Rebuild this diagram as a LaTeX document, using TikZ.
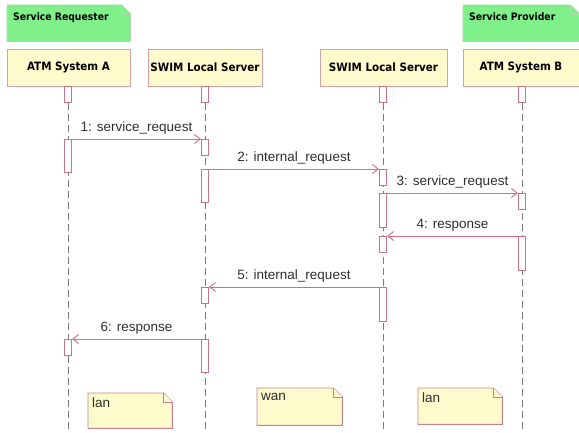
\documentclass[tikz,border=0pt]{standalone}
\usepackage{fontspec}
\setmainfont{Liberation Sans}
\newfontfamily\headfont{DejaVu Sans Condensed}
\usetikzlibrary{arrows.meta}

\definecolor{headfill}{HTML}{FFFBCC}
\definecolor{headline}{HTML}{D8A0A4}
\definecolor{actline}{HTML}{C87488}
\definecolor{msgline}{HTML}{D66A88}
\definecolor{lifeline}{HTML}{7A7A7A}
\definecolor{greenfill}{HTML}{80F08A}
\definecolor{greenline}{HTML}{A6DCA6}
\definecolor{notefill}{HTML}{FFFBCC}
\definecolor{noteline}{HTML}{C8808A}
\definecolor{labeltext}{HTML}{2E2E2E}

\newcommand\dogear{9pt}
% UML note: name, left x, top y, width, height, body style, text style, text
\newcommand\umlnote[8]{%
  \node[inner sep=0pt, minimum width=#4pt, minimum height=#5pt, anchor=north west] (#1) at (#2,#3) {};
  \filldraw[#6] (#1.south west) -- (#1.north west) -- ([xshift=-\dogear]#1.north east)
     -- ([yshift=-\dogear]#1.north east) -- (#1.south east) -- cycle;
  \draw[#6] ([xshift=-\dogear]#1.north east) |- ([yshift=-\dogear]#1.north east);
  \node[anchor=north west, #7] (#1-text) at (#1.north west) {#8};
}

\begin{document}
\begin{tikzpicture}[x=1pt, y=-1pt,
  head/.style={draw=headline, fill=headfill, line width=0.9pt, inner sep=0pt,
    minimum height=37pt, font=\headfont\bfseries\fontsize{11.5}{13}\selectfont},
  act/.style={draw=actline, fill=white, line width=0.9pt, inner sep=0pt,
    minimum width=7pt, anchor=north},
  life/.style={draw=lifeline, line width=0.9pt, dash pattern=on 7pt off 4pt},
  msg/.style={draw=msgline, line width=0.9pt,
    -{Straight Barb[length=6pt, width=9pt, line width=0.9pt]}},
  lbl/.style={above=4pt, inner sep=0pt, text=labeltext,
    font=\fontsize{13.5}{15}\selectfont},
  greennote/.style={draw=greenline, fill=greenfill, line width=0.9pt},
  greentext/.style={inner xsep=6pt, inner ysep=7pt,
    font=\headfont\bfseries\fontsize{10.3}{12}\selectfont},
  yellownote/.style={draw=noteline, fill=notefill, line width=0.9pt},
  yellowtext/.style={inner xsep=4pt, inner ysep=5pt, text=labeltext,
    font=\fontsize{13.5}{15}\selectfont}]

\useasboundingbox (0,0) rectangle (579,433);

% group notes above the heads
\umlnote{req}{7}{5}{123}{36}{greennote}{greentext}{Service Requester}
\umlnote{prov}{463}{5}{116}{36}{greennote}{greentext}{Service Provider}

% lifeline heads
\node[head, minimum width=123pt] (hA)  at (68.5,67.5)  {ATM System A};
\node[head, minimum width=114pt] (hS1) at (205,67.5)   {SWIM Local Server};
\node[head, minimum width=127pt] (hS2) at (383.5,67.5) {SWIM Local Server};
\node[head, minimum width=116pt] (hB)  at (521,67.5)   {ATM System B};

% creation bars below the heads
\node[act, minimum height=16pt] (tA)  at (68,86)  {};
\node[act, minimum height=16pt] (tS1) at (205,86) {};
\node[act, minimum height=16pt] (tS2) at (383,86) {};
\node[act, minimum height=16pt] (tB)  at (522,86) {};

% dashed lifelines
\coordinate (eA)  at (68,433);
\coordinate (eS1) at (205,433);
\coordinate (eS2) at (383,433);
\coordinate (eB)  at (522,433);
\draw[life] (tA.south)  -- (eA);
\draw[life] (tS1.south) -- (eS1);
\draw[life] (tS2.south) -- (eS2);
\draw[life] (tB.south)  -- (eB);

% activation bars
\node[act, minimum height=33pt] (aA1)  at (68,139)  {};
\node[act, minimum height=16pt] (aA2)  at (68,339)  {};
\node[act, minimum height=16pt] (aS1a) at (205,139) {};
\node[act, minimum height=33pt] (aS1b) at (205,169) {};
\node[act, minimum height=16pt] (aS1c) at (205,287) {};
\node[act, minimum height=33pt] (aS1d) at (205,339) {};
\node[act, minimum height=16pt] (aS2a) at (383,169) {};
\node[act, minimum height=34pt] (aS2b) at (383,193) {};
\node[act, minimum height=16pt] (aS2c) at (383,236) {};
\node[act, minimum height=34pt] (aS2d) at (383,287) {};
\node[act, minimum height=16pt] (aB1)  at (522,193) {};
\node[act, minimum height=34pt] (aB2)  at (522,236) {};

% messages
\draw[msg] (aA1.north east)  -- node[lbl] {1: service\_request}  (aS1a.north west);
\draw[msg] (aS1b.north east) -- node[lbl] {2: internal\_request} (aS2a.north west);
\draw[msg] (aS2b.north east) -- node[lbl] {3: service\_request}  (aB1.north west);
\draw[msg] (aB2.north west)  -- node[lbl] {4: response}          (aS2c.north east);
\draw[msg] (aS2d.north west) -- node[lbl] {5: internal\_request} (aS1c.north east);
\draw[msg] (aS1d.north west) -- node[lbl] {6: response}          (aA2.north east);

% network notes at the bottom
\umlnote{lanA}{88}{393}{84}{35}{yellownote}{yellowtext}{lan}
\umlnote{wan}{257}{388}{85}{37}{yellownote}{yellowtext}{wan}
\umlnote{lanB}{418}{388}{84}{36}{yellownote}{yellowtext}{lan}

\end{tikzpicture}
\end{document}
